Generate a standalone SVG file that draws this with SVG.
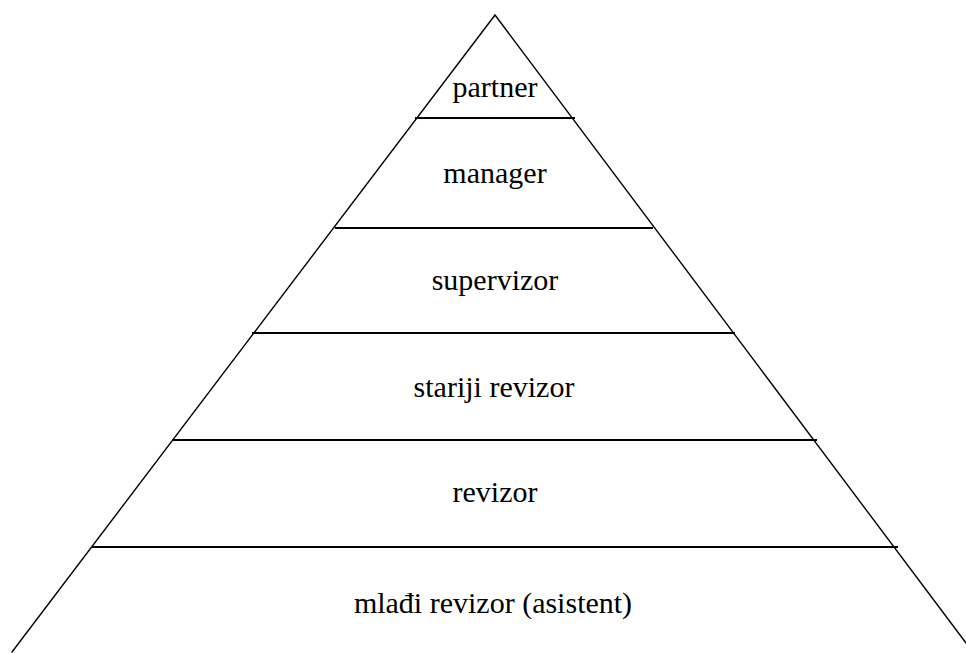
<svg xmlns="http://www.w3.org/2000/svg" width="966" height="653" viewBox="0 0 966 653">
<style>
.side{stroke:#000;stroke-width:1.4;fill:none;stroke-linecap:round}
.tier{stroke:#000;stroke-width:2.2;fill:none}
.lbl{font-family:"Liberation Serif","Times New Roman",serif;font-size:30px;fill:#000;text-anchor:middle}
</style>
<rect width="966" height="653" fill="#fff"/>
<g id="connectors">
<path class="side" d="M12,652 L495,15 L966,643"/>
<line class="tier" x1="415" y1="118" x2="575" y2="118"/>
<line class="tier" x1="335" y1="228" x2="653" y2="228"/>
<line class="tier" x1="252" y1="333" x2="735" y2="333"/>
<line class="tier" x1="172" y1="440" x2="817" y2="440"/>
<line class="tier" x1="92" y1="547" x2="898" y2="547"/>
</g>
<g id="partner"><text class="lbl" x="495" y="97">partner</text></g>
<g id="manager"><text class="lbl" x="495" y="183">manager</text></g>
<g id="supervizor"><text class="lbl" x="495" y="290">supervizor</text></g>
<g id="stariji-revizor"><text class="lbl" x="494" y="397">stariji revizor</text></g>
<g id="revizor"><text class="lbl" x="495" y="502">revizor</text></g>
<g id="mladi-revizor"><text class="lbl" x="493" y="613">mlađi revizor (asistent)</text></g>
</svg>
